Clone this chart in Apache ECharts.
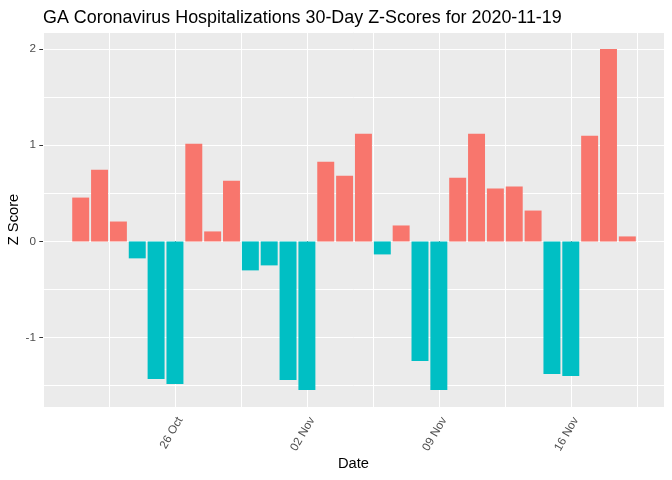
<!DOCTYPE html>
<html><head><meta charset="utf-8">
<script src="https://cdn.jsdelivr.net/npm/echarts@6/dist/echarts.min.js"></script>
<style>html,body{margin:0;padding:0;background:#fff}#c{width:672px;height:480px}</style>
</head><body><div id="c"></div>
<script>
const chartTitle = 'GA Coronavirus Hospitalizations 30-Day Z-Scores for 2020-11-19';
const dates = [
  '2020-10-21','2020-10-22','2020-10-23','2020-10-24','2020-10-25','2020-10-26','2020-10-27',
  '2020-10-28','2020-10-29','2020-10-30','2020-10-31','2020-11-01','2020-11-02','2020-11-03',
  '2020-11-04','2020-11-05','2020-11-06','2020-11-07','2020-11-08','2020-11-09','2020-11-10',
  '2020-11-11','2020-11-12','2020-11-13','2020-11-14','2020-11-15','2020-11-16','2020-11-17',
  '2020-11-18','2020-11-19'
];
const zScores = [
  0.456, 0.746, 0.207, -0.176, -1.430, -1.482, 1.016,
  0.104, 0.632, -0.301, -0.249, -1.440, -1.544, 0.829,
  0.684, 1.119, -0.135, 0.166, -1.244, -1.544, 0.663,
  1.119, 0.549, 0.570, 0.321, -1.378, -1.399, 1.098,
  2.000, 0.052
];
const xTickDates = ['2020-10-26','2020-11-02','2020-11-09','2020-11-16'];
const yTickValues = [-1, 0, 1, 2];

const DAY = 86400000;
const origin = Date.UTC(2020, 9, 19);
const toDay = s => (Date.parse(s + 'T00:00:00Z') - origin) / DAY;
const monthNames = ['Jan','Feb','Mar','Apr','May','Jun','Jul','Aug','Sep','Oct','Nov','Dec'];
const fmtDay = d => {
  const t = new Date(origin + Math.round(d) * DAY);
  return String(t.getUTCDate()).padStart(2, '0') + ' ' + monthNames[t.getUTCMonth()];
};

const xs = dates.map(toDay);
const xLo = xs[0] - 0.45, xHi = xs[xs.length - 1] + 0.45;
const xMax = xHi + 0.05 * (xHi - xLo);
const xMin = 0;
const yLo = Math.min(0, ...zScores), yHi = Math.max(0, ...zScores);
const yMin = yLo - 0.05 * (yHi - yLo), yMax = yHi + 0.05 * (yHi - yLo);

const RED = '#F8766D', TEAL = '#00BFC4';
const FONT = 'Liberation Sans, Arial, sans-serif';

const chart = echarts.init(document.getElementById('c'), null, {renderer: 'canvas'});
chart.setOption({
  animation: false,
  backgroundColor: '#ffffff',
  title: {
    text: chartTitle, left: 38, top: 4,
    textStyle: {fontFamily: FONT, fontSize: 17.9, fontWeight: 'normal', color: '#000'}
  },
  grid: {left: 43, right: 8, top: 32, bottom: 73, show: true, backgroundColor: '#EBEBEB', borderWidth: 0,
    containLabel: false, outerBoundsMode: 'none'},
  xAxis: [
    {
      type: 'value', min: xMin, max: xMax, interval: 3.5, position: 'bottom',
      axisLine: {show: false}, axisTick: {show: false}, axisLabel: {show: false},
      splitLine: {show: true, lineStyle: {color: '#ffffff', width: 1}}
    },
    {
      type: 'value', min: xMin, max: xMax, position: 'bottom',
      name: 'Date', nameLocation: 'middle', nameGap: 49, nameMoveOverlap: false,
      nameTextStyle: {fontFamily: FONT, fontSize: 14.7, color: '#000'},
      axisLine: {show: false},
      axisTick: {show: true, length: 3.7, customValues: xTickDates.map(toDay), lineStyle: {color: '#333333', width: 1}},
      axisLabel: {show: true, customValues: xTickDates.map(toDay), formatter: v => fmtDay(v), rotate: 60,
        verticalAlign: 'top', margin: 8, fontFamily: FONT, fontSize: 11.7, color: '#4D4D4D'},
      splitLine: {show: false}
    }
  ],
  yAxis: [
    {
      type: 'value', min: yMin, max: yMax, splitNumber: 8,
      axisLine: {show: false}, axisTick: {show: false}, axisLabel: {show: false},
      splitLine: {show: true, lineStyle: {color: '#ffffff', width: 1}}
    },
    {
      type: 'value', min: yMin, max: yMax, position: 'left',
      name: 'Z Score', nameLocation: 'middle', nameGap: 22, nameMoveOverlap: false,
      nameTextStyle: {fontFamily: FONT, fontSize: 14.7, color: '#000'},
      axisLine: {show: false},
      axisTick: {show: true, length: 3.7, customValues: yTickValues, lineStyle: {color: '#333333', width: 1}},
      axisLabel: {show: true, customValues: yTickValues, margin: 7, fontFamily: FONT, fontSize: 11.7, color: '#4D4D4D'},
      splitLine: {show: false}
    }
  ],
  series: [{
    type: 'bar', xAxisIndex: 0, yAxisIndex: 0, barWidth: '90%',
    data: xs.map((x, i) => [x, zScores[i]]),
    itemStyle: {color: p => (p.value[1] >= 0 ? RED : TEAL)}
  }]
});
</script></body></html>
